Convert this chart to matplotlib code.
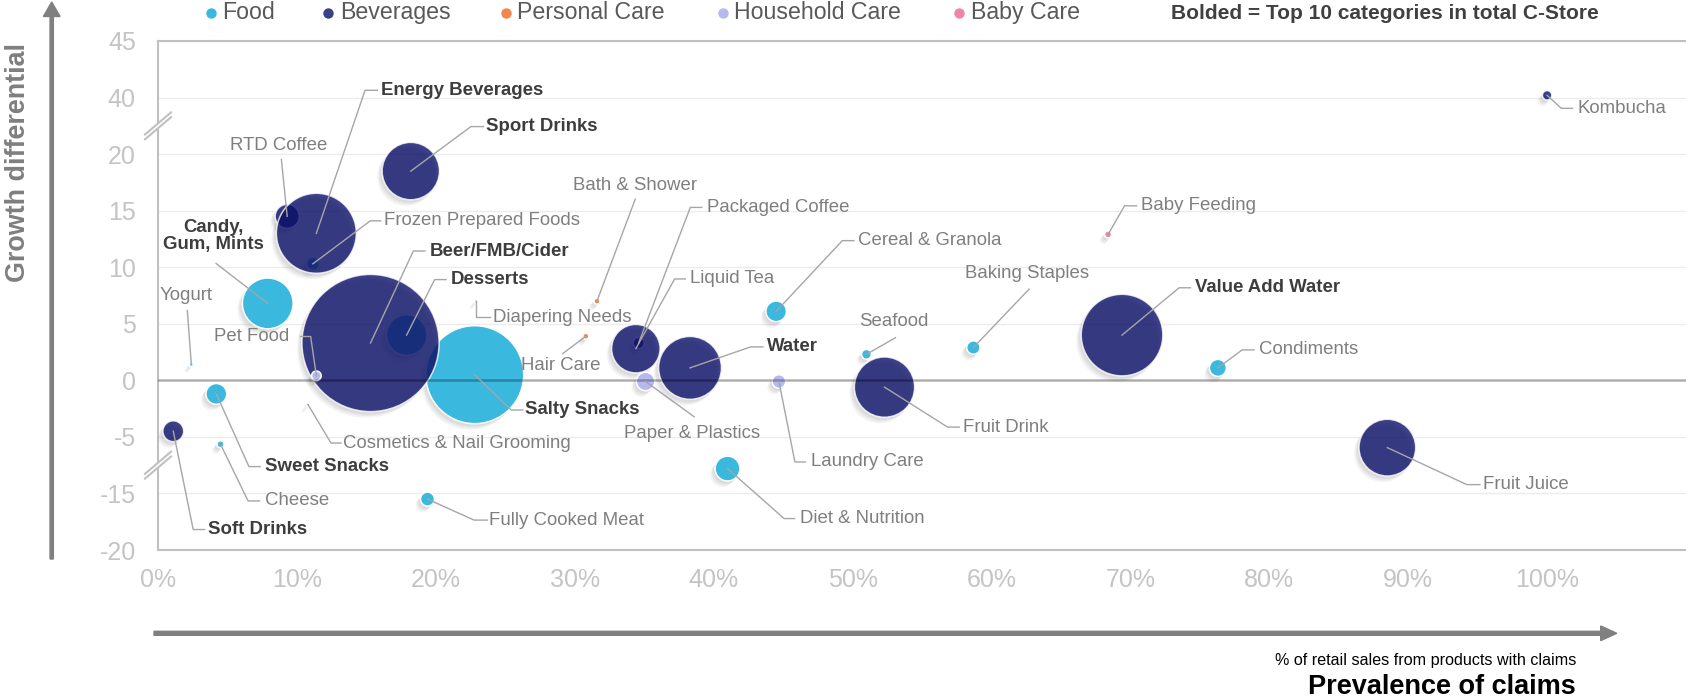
import matplotlib
matplotlib.use("Agg")
import matplotlib.pyplot as plt
import matplotlib.transforms as mtransforms
import matplotlib.patheffects as pe
from matplotlib.lines import Line2D
from matplotlib.patches import FancyArrow, Polygon
import numpy as np

plt.rcParams['font.family'] = ['Liberation Sans', 'DejaVu Sans']

W, H, DPI = 1686, 698, 100

# ---- data -------------------------------------------------------------
categories = ['Food', 'Beverages', 'Personal Care', 'Household Care', 'Baby Care']

names = ['Yogurt', 'Candy,\nGum, Mints', 'Frozen Prepared Foods', 'Desserts', 'Salty Snacks',
         'Sweet Snacks', 'Cheese', 'Fully Cooked Meat', 'Cereal & Granola', 'Diet & Nutrition',
         'Seafood', 'Baking Staples', 'Condiments',
         'RTD Coffee', 'Energy Beverages', 'Sport Drinks', 'Beer/FMB/Cider', 'Soft Drinks',
         'Liquid Tea', 'Packaged Coffee', 'Water', 'Fruit Drink', 'Value Add Water',
         'Fruit Juice', 'Kombucha',
         'Cosmetics & Nail Grooming', 'Hair Care', 'Bath & Shower',
         'Pet Food', 'Paper & Plastics', 'Laundry Care',
         'Diapering Needs', 'Baby Feeding']
segment = (['Food'] * 13 + ['Beverages'] * 12 + ['Personal Care'] * 3
           + ['Household Care'] * 3 + ['Baby Care'] * 2)
# % of retail sales from products with claims
share = [2.4, 7.9, 11.15, 17.9, 22.8, 4.2, 4.5, 19.4, 44.5, 41.0, 51.0, 58.7, 76.3,
         9.3, 11.4, 18.2, 15.3, 1.1, 34.4, 34.6, 38.3, 52.3, 69.4, 88.5, 100.0,
         10.8, 30.8, 31.6,
         11.4, 35.1, 44.7,
         22.9, 68.4]
# growth differential
growth = [1.4, 6.8, 10.3, 4.0, 0.5, -1.2, -6.3, -15.5, 6.1, -10.6, 2.3, 2.9, 1.1,
          14.5, 13.0, 18.5, 3.3, -4.5, 2.8, 3.3, 1.1, -0.6, 4.0, -6.9, 40.2,
          -2.15, 3.9, 7.0,
          0.4, -0.1, -0.1,
          7.0, 12.9]
# relative category sales (bubble area)
sales = [0.08, 13.7, 0.9, 8.76, 51.0, 2.3, 0.26, 1.04, 2.25, 3.27, 0.51, 0.95, 1.54,
         3.06, 34.0, 17.5, 100.0, 2.3, 12.5, 0.64, 21.0, 19.3, 35.4, 17.1, 0.47,
         0.05, 0.19, 0.19,
         0.49, 1.8, 0.98,
         0.05, 0.26]
top10 = ['Candy,\nGum, Mints', 'Desserts', 'Salty Snacks', 'Sweet Snacks', 'Energy Beverages',
         'Sport Drinks', 'Beer/FMB/Cider', 'Soft Drinks', 'Water', 'Value Add Water']

x_ticks = [0, 10, 20, 30, 40, 50, 60, 70, 80, 90, 100]
x_ticklabels = [f'{t}%' for t in x_ticks]
y_ticks = [-20, -15, -5, 0, 5, 10, 15, 20, 40, 45]
y_ticklabels = [str(t) for t in y_ticks]

# ---- styles -----------------------------------------------------------
cat_colors = {'Food': '#3ab8de', 'Beverages': '#0b1069', 'Personal Care': '#f0874c',
              'Household Care': '#b5b9ef', 'Baby Care': '#ef85aa'}
cat_alpha = {'Food': 1.0, 'Beverages': 0.8, 'Personal Care': 1.0,
             'Household Care': 1.0, 'Baby Care': 1.0}
SIZE_SCALE = 97.6  # points^2 per sales unit

# label placement in pixel offsets from the bubble centre (y up):
# (text offset, alignment, leader vertices after the centre)
label_layout = {
    'Yogurt': ((-5, 69), 'center', [(-4, 54)]),
    'Candy,\nGum, Mints': ((-54.7, 67.3), 'center', [(-51.7, 40)]),
    'Pet Food': ((-27, 39.3), 'right', [(-5.7, 39.3), (-16, 39.3)]),
    'RTD Coffee': ((-8.2, 71), 'center', [(-5.8, 56.7)]),
    'Energy Beverages': ((64.8, 143), 'left', [(48.7, 143), (61, 143)]),
    'Frozen Prepared Foods': ((71.6, 43), 'left', [(57.4, 43), (67.8, 43)]),
    'Sport Drinks': ((75.4, 44.5), 'left', [(60.1, 44.5), (72.6, 44.5)]),
    'Beer/FMB/Cider': ((59.3, 92), 'left', [(42.8, 92), (54.4, 92)]),
    'Desserts': ((44, 55.5), 'left', [(28, 55.5), (39.4, 55.5)]),
    'Salty Snacks': ((50.5, -35.3), 'left', [(36.5, -35.3), (48, -35.3)]),
    'Sweet Snacks': ((49, -72.7), 'left', [(32.6, -72.7), (43.8, -72.7)]),
    'Cheese': ((44, -56.7), 'left', [(27.6, -56.7), (39, -56.7)]),
    'Soft Drinks': ((35.2, -98.3), 'left', [(19.9, -98.3), (31.3, -98.3)]),
    'Cosmetics & Nail Grooming': ((35.3, -38.4), 'left', [(23, -38.4), (33, -38.4)]),
    'Fully Cooked Meat': ((62, -21), 'left', [(46.6, -21), (60, -21)]),
    'Diapering Needs': ((17.2, -16), 'left', [(0, -15.5), (13.5, -15.5)]),
    'Hair Care': ((-25, -29.7), 'center', [(-23, -17.3)]),
    'Bath & Shower': ((38, 116), 'center', [(38.3, 102)]),
    'Liquid Tea': ((54, 69.7), 'left', [(38.8, 69.7), (49.5, 69.7)]),
    'Packaged Coffee': ((68, 135.6), 'left', [(51.7, 135.6), (63.2, 135.6)]),
    'Paper & Plastics': ((46.6, -52), 'center', [(48.6, -35.3)]),
    'Water': ((77.4, 21), 'left', [(60.6, 21), (72.8, 21)]),
    'Cereal & Granola': ((82.3, 70.7), 'left', [(66.2, 70.7), (77.7, 70.7)]),
    'Laundry Care': ((32, -80.5), 'left', [(16, -80.5), (26.3, -80.5)]),
    'Diet & Nutrition': ((72, -50), 'left', [(56.6, -50), (67, -50)]),
    'Seafood': ((27.2, 32.6), 'center', [(29, 16.6)]),
    'Fruit Drink': ((78.4, -40), 'left', [(63.1, -40), (74.7, -40)]),
    'Baking Staples': ((53.9, 74), 'center', [(55.7, 58.4)]),
    'Value Add Water': ((73.2, 47.3), 'left', [(57.1, 47.3), (68.4, 47.3)]),
    'Condiments': ((41.2, 18), 'left', [(24.3, 18), (36.2, 18)]),
    'Fruit Juice': ((95.3, -37), 'left', [(79.5, -37), (92.5, -37)]),
    'Kombucha': ((30.3, -13), 'left', [(14.2, -13), (25.4, -13)]),
    'Baby Feeding': ((32.9, 28.6), 'left', [(16.4, 28.6), (28.4, 28.6)]),
}


# broken y axis: 20..40 and -5..-15 are squeezed into one tick step each
def fwd(y):
    y = np.asarray(y, dtype=float)
    return np.where(y >= 40, y - 15,
           np.where(y >= 20, 20 + (y - 20) / 4,
           np.where(y >= -5, y,
           np.where(y >= -15, -5 + (y + 5) / 2, y + 5))))


def inv(d):
    d = np.asarray(d, dtype=float)
    return np.where(d >= 25, d + 15,
           np.where(d >= 20, 20 + (d - 20) * 4,
           np.where(d >= -5, d,
           np.where(d >= -10, -5 + (d + 5) * 2, d - 5))))


fig = plt.figure(figsize=(W / DPI, H / DPI), dpi=DPI)
# pixel coordinates measured from the top-left corner
top_px = mtransforms.Affine2D().scale(1, -1).translate(0, H).scale(1 / DPI) + fig.dpi_scale_trans

ax = fig.add_axes([158 / W, 148 / H, 1528 / W, 509 / H])
ax.set_yscale('function', functions=(fwd, inv))
ax.set_xlim(0, 110)
ax.set_ylim(-20, 45)

share_a = np.array(share)
growth_a = np.array(growth)
sales_a = np.array(sales)
seg_a = np.array(segment)

shadow = [pe.SimplePatchShadow(offset=(-1.5, -2.0), shadow_rgbFace='#7a7a7a', alpha=0.10),
          pe.SimplePatchShadow(offset=(-2.5, -3.2), shadow_rgbFace='#7a7a7a', alpha=0.10),
          pe.SimplePatchShadow(offset=(-3.5, -4.4), shadow_rgbFace='#7a7a7a', alpha=0.08),
          pe.Normal()]

for k, cat in enumerate(categories):
    idx = np.where(seg_a == cat)[0]
    idx = idx[np.argsort(sales_a[idx])]
    ax.scatter(share_a[idx], growth_a[idx], s=sales_a[idx] * SIZE_SCALE,
               color=cat_colors[cat], alpha=cat_alpha[cat], edgecolors='white',
               linewidths=1.1, zorder=3 + k, path_effects=shadow)

# axes styling
ax.set_xticks(x_ticks, x_ticklabels)
ax.set_yticks(y_ticks, y_ticklabels)
ax.yaxis.set_minor_locator(matplotlib.ticker.NullLocator())
ax.tick_params(axis='both', length=0, labelsize=18, labelcolor='#c4c4c4')
ax.tick_params(axis='x', pad=13)
ax.tick_params(axis='y', pad=16)
ax.grid(axis='y', color='#ececec', lw=1)
ax.set_axisbelow(True)
for side in ['left', 'bottom', 'top']:
    ax.spines[side].set_color('#c0c0c0')
    ax.spines[side].set_linewidth(1.5)
ax.spines['right'].set_visible(False)
ax.axhline(0, color='black', alpha=0.28, lw=1.8, zorder=12)

# break marks on the y axis
for yb in [30, -10]:
    tr = mtransforms.IdentityTransform() + mtransforms.ScaledTranslation(0, yb, ax.transData)
    a0, a1 = (-13, -11.05 - 2.4), (13, 11.05 - 2.4)
    b0, b1 = (-13, -11.05 + 2.4), (13, 11.05 + 2.4)
    ax.add_artist(Polygon([a0, a1, b1, b0], closed=True, facecolor='white', edgecolor='none',
                          transform=tr, clip_on=False, zorder=15))
    for p, q in [(a0, a1), (b0, b1)]:
        ax.add_artist(Line2D([p[0], q[0]], [p[1], q[1]], color='#c0c0c0', lw=1.5,
                             transform=tr, clip_on=False, zorder=16))

# data labels with leader lines
for name, xv, yv in zip(names, share, growth):
    (tx, ty), ha, leader = label_layout[name]
    tr = mtransforms.IdentityTransform() + mtransforms.ScaledTranslation(xv, yv, ax.transData)
    pts = [(0, 0)] + leader
    ax.add_artist(Line2D([p[0] for p in pts], [p[1] for p in pts], color='#a6a6a6', lw=1.0,
                         transform=tr, clip_on=False, zorder=20))
    bold = name in top10
    ax.text(tx, ty, name, transform=tr, ha=ha, va='center', fontsize=13.4,
            fontweight='bold' if bold else 'normal',
            color='#3d3d3d' if bold else '#7f7f7f', linespacing=1.0,
            multialignment='center', zorder=21)

# legend row
legend_marker_x = [210.5, 328.4, 506, 722.6, 959.2]
legend_text_x = [222, 339.8, 517.4, 734, 971.4]
for cat, mx, tx in zip(categories, legend_marker_x, legend_text_x):
    fig.add_artist(Line2D([mx], [12.5], marker='o', ms=7.5, color=cat_colors[cat],
                          alpha=cat_alpha[cat], markeredgewidth=0, transform=top_px))
    fig.text(tx, 12.5, cat, transform=top_px, ha='left', va='center', fontsize=16.7,
             color='#595959')

fig.text(1599, 13.5, 'Bolded = Top 10 categories in total C-Store', transform=top_px,
         ha='right', va='center', fontsize=15, fontweight='bold', color='#404040')

# axis arrows and titles
fig.add_artist(FancyArrow(51.7, 559, 0, -557, width=3.3, head_width=16.7, head_length=14.5,
                          length_includes_head=True, color='#808080', transform=top_px))
fig.add_artist(FancyArrow(154, 633.3, 1462.7, 0, width=4, head_width=14.7, head_length=16,
                          length_includes_head=True, color='#808080', transform=top_px))
fig.text(18, 162, 'Growth differential', transform=top_px, rotation=90, ha='center',
         va='center', fontsize=19.4, fontweight='bold', color='#7f7f7f')
fig.text(1576, 660.5, '% of retail sales from products with claims', transform=top_px,
         ha='right', va='center', fontsize=11.6, color='black')
fig.text(1576, 687, 'Prevalence of claims', transform=top_px, ha='right', va='center',
         fontsize=19.5, fontweight='bold', color='black')

fig.savefig('out.png', dpi=DPI)
